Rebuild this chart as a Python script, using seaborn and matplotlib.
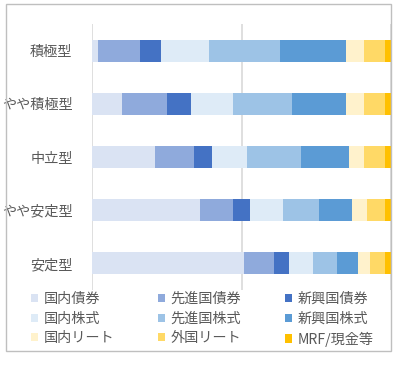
import numpy as np
import pandas as pd
import matplotlib
matplotlib.use("Agg")
import matplotlib.pyplot as plt
from matplotlib.patches import Patch, Rectangle
import seaborn as sns

# Data (percent allocation per portfolio type)
categories = ["積極型", "やや積極型", "中立型", "やや安定型", "安定型"]
assets = ["国内債券", "先進国債券", "新興国債券", "国内株式", "先進国株式",
          "新興国株式", "国内リート", "外国リート", "MRF/現金等"]
domestic_bond = [2, 10, 21, 36, 51]
developed_bond = [14, 15, 13, 11, 10]
emerging_bond = [7, 8, 6, 6, 5]
domestic_stock = [16, 14, 12, 11, 8]
developed_stock = [24, 20, 18, 12, 8]
emerging_stock = [22, 18, 16, 11, 7]
domestic_reit = [6, 6, 5, 5, 4]
foreign_reit = [7, 7, 7, 6, 5]
mrf_cash = [2, 2, 2, 2, 2]
colors = ["#DAE3F3", "#8FAADC", "#4472C4", "#DEEBF7", "#9DC3E6",
          "#5B9BD5", "#FFF2CC", "#FFD966", "#FFC000"]

series = [domestic_bond, developed_bond, emerging_bond, domestic_stock,
          developed_stock, emerging_stock, domestic_reit, foreign_reit, mrf_cash]
df = pd.DataFrame(dict(zip(assets, series)), index=categories)
cum = df.cumsum(axis=1)

sns.set_style("white")
plt.rcParams['font.family'] = ['Noto Sans CJK JP', 'DejaVu Sans']
text_color = "#595959"

fig = plt.figure(figsize=(4, 3.75), dpi=100)
ax = fig.add_axes([92 / 400, 1 - 290 / 375, 299 / 400, 266 / 375])

# Stacked bars: draw cumulative totals from the last series backwards
for asset, color in reversed(list(zip(assets, colors))):
    d = pd.DataFrame({"category": categories, "value": cum[asset].values})
    sns.barplot(data=d, x="value", y="category", color=color, orient="h",
                width=0.41, saturation=1, linewidth=0, ax=ax)

ax.set_xlim(0, 100)
ax.set_xticks([0, 50, 100])
ax.set_xticklabels([])
ax.xaxis.grid(True, color="#D9D9D9", linewidth=1.2)
ax.set_axisbelow(True)
ax.tick_params(axis="both", length=0)
ax.tick_params(axis="y", labelsize=10.2, labelcolor=text_color, pad=14)
ax.set_xlabel("")
ax.set_ylabel("")
for s in ax.spines.values():
    s.set_visible(False)

# Legend in three columns
cols = [[0, 3, 6], [1, 4, 7], [2, 5, 8]]
col_x = [31, 158, 285]
for idx, x in zip(cols, col_x):
    handles = [Patch(facecolor=colors[i], edgecolor="none", label=assets[i]) for i in idx]
    fig.legend(handles=handles, loc="upper left", bbox_to_anchor=(x / 400, 1 - 292 / 375),
               frameon=False, fontsize=10.2, labelcolor=text_color, borderpad=0,
               borderaxespad=0, handlelength=0.52, handleheight=0.52,
               handletextpad=0.38, labelspacing=0.4)

# Chart border
fig.patches.append(Rectangle((6 / 400, 1 - 351 / 375), 385 / 400, 347 / 375,
                             transform=fig.transFigure, fill=False,
                             edgecolor="#BFBFBF", linewidth=1))

fig.savefig("out.png", dpi=100, facecolor="white")
